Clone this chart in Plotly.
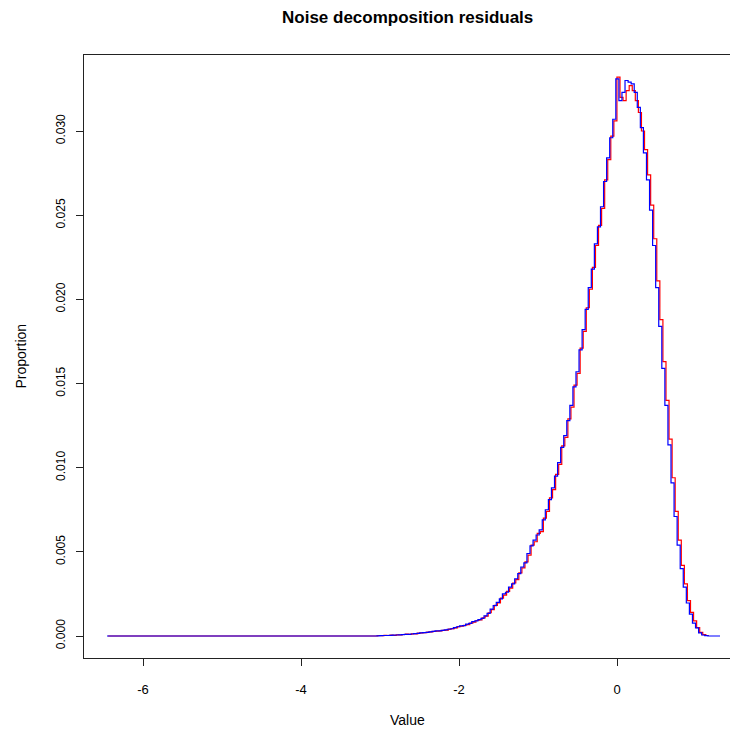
import plotly.graph_objects as go

# ---------------- data ----------------
TITLE = "Noise decomposition residuals"
X_LABEL = "Value"
Y_LABEL = "Proportion"

BIN_WIDTH = 0.0388
BLUE_START = -6.456     # first bin edge of blue histogram
RED_START = -6.442      # first bin edge of red histogram

x_tick_vals = [-6, -4, -2, 0]
x_tick_text = ["-6", "-4", "-2", "0"]
y_tick_vals = [0.000, 0.005, 0.010, 0.015, 0.020, 0.025, 0.030]
y_tick_text = ["0.000", "0.005", "0.010", "0.015", "0.020", "0.025", "0.030"]

blue_props = [0.0] * 88 + [
    0.00001, 0.00002, 0.00003, 0.00003, 0.00004, 0.00005, 0.00006, 0.00007, 0.00008, 0.0001,
    0.0001, 0.00012, 0.00014, 0.00016, 0.00018, 0.0002, 0.00022, 0.00025, 0.00027, 0.0003,
    0.0003, 0.00033, 0.00036, 0.0004, 0.00043, 0.0005, 0.00055, 0.0006, 0.00062, 0.0007,
    0.00075, 0.00085, 0.0009, 0.00097, 0.00105, 0.0012, 0.00135, 0.0016, 0.0018, 0.0020,
    0.0022, 0.0025, 0.0026, 0.0029, 0.0031, 0.0034, 0.0037, 0.0041, 0.00435, 0.0049,
    0.00535, 0.0057, 0.0060, 0.0063, 0.0069, 0.0075, 0.0081, 0.0088, 0.0095, 0.0103,
    0.0112, 0.0119, 0.0128, 0.0137, 0.0148, 0.0157, 0.0170, 0.0182, 0.0194, 0.0207,
    0.0218, 0.0233, 0.0243, 0.0255, 0.0270, 0.0284, 0.0296, 0.0307, 0.0331, 0.0318,
    0.0323, 0.0330, 0.0329, 0.0328, 0.0323, 0.0314, 0.0302, 0.0287, 0.0271, 0.0253,
    0.0232, 0.0207, 0.0184, 0.0159, 0.0137, 0.01135, 0.0091, 0.0071, 0.0054, 0.0040,
    0.0029, 0.00196, 0.0013, 0.00077, 0.00048, 0.00018, 0.00006, 0.00002, 0.0, 0.0,
    0.0, 0.0,
]

red_props = [0.0] * 88 + [
    0.00003, 0.00002, 0.00004, 0.00003, 0.00005, 0.00004, 0.00007, 0.00006, 0.00009, 0.00011,
    0.0001, 0.00013, 0.00013, 0.00017, 0.00019, 0.0002, 0.00023, 0.00024, 0.00028, 0.00029,
    0.00031, 0.00034, 0.00035, 0.00041, 0.00044, 0.00048, 0.00056, 0.00058, 0.00064, 0.00068,
    0.00077, 0.00083, 0.00092, 0.00096, 0.00108, 0.00118, 0.00138, 0.00157, 0.00182, 0.00197,
    0.00225, 0.00243, 0.00265, 0.00285, 0.00315, 0.00335, 0.00375, 0.00405, 0.0044, 0.0048,
    0.0054, 0.0056, 0.0061, 0.0062, 0.0070, 0.0074, 0.0082, 0.0087, 0.0096, 0.0102,
    0.0113, 0.0118, 0.0129, 0.0136, 0.0149, 0.0156, 0.0171, 0.0181, 0.0195, 0.0206,
    0.0219, 0.0232, 0.0244, 0.0254, 0.0271, 0.0283, 0.0297, 0.0306, 0.0332, 0.0320,
    0.0318, 0.0324, 0.0327, 0.0324, 0.0318, 0.0311, 0.0300, 0.0289, 0.0274, 0.0256,
    0.0236, 0.0211, 0.0188, 0.0163, 0.0140, 0.0117, 0.0094, 0.0074, 0.0057, 0.0042,
    0.0031, 0.0021, 0.0014, 0.0009, 0.0005, 0.00022, 0.00008, 0.00003,
]


def step_xy(start, width, props):
    xs = [start + width * k for k in range(len(props) + 1)]
    ys = list(props) + [props[-1]]
    return xs, ys


bx, by = step_xy(BLUE_START, BIN_WIDTH, blue_props)
rx, ry = step_xy(RED_START, BIN_WIDTH, red_props)

FONT = "Liberation Sans, Arial, sans-serif"

fig = go.Figure()
fig.add_trace(go.Scatter(x=rx, y=ry, mode="lines", line=dict(color="#FF0000", width=1.2, shape="hv"),
                         showlegend=False, hoverinfo="skip"))
fig.add_trace(go.Scatter(x=bx, y=by, mode="lines", line=dict(color="#0000FF", width=1.2, shape="hv"),
                         showlegend=False, hoverinfo="skip"))

fig.update_layout(
    width=730, height=736,
    margin=dict(l=84, r=0, t=55, b=78),
    paper_bgcolor="white", plot_bgcolor="white",
    font=dict(family=FONT, size=12, color="black"),
    showlegend=False,
    annotations=[
        dict(text="<b>" + TITLE + "</b>", xref="paper", yref="paper", x=0.5, y=1 + 37 / 603,
             xanchor="center", yanchor="middle", showarrow=False, font=dict(size=17, family=FONT)),
        dict(text=X_LABEL, xref="paper", yref="paper", x=0.5, y=-(720 - 658) / 603,
             xanchor="center", yanchor="middle", showarrow=False, font=dict(size=14, family=FONT)),
        dict(text=Y_LABEL, xref="paper", yref="paper", x=-(84 - 20) / 646, y=0.5, textangle=-90,
             xanchor="center", yanchor="middle", showarrow=False, font=dict(size=14, family=FONT)),
    ],
)

fig.update_xaxes(
    range=[-6.747, 1.430], showgrid=False, zeroline=False,
    showline=True, linecolor="#222222", linewidth=1, mirror=True,
    ticks="outside", ticklen=7, tickcolor="#222222", tickwidth=1,
    tickvals=x_tick_vals, ticktext=x_tick_text, ticklabelstandoff=12,
    tickfont=dict(size=13),
)
fig.update_yaxes(
    range=[-0.001307, 0.034516], showgrid=False, zeroline=False,
    showline=True, linecolor="#222222", linewidth=1, mirror=False,
    ticks="outside", ticklen=7, tickcolor="#222222", tickwidth=1,
    tickvals=y_tick_vals, ticktext=y_tick_text, tickangle=-90, ticklabelstandoff=6,
)

fig.write_html("out.html")
